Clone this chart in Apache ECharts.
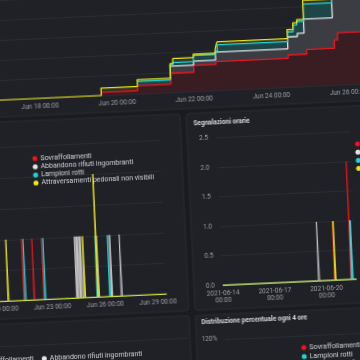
<!DOCTYPE html>
<html><head><meta charset="utf-8">
<script src="https://cdn.jsdelivr.net/npm/echarts@6/dist/echarts.min.js"></script>
<style>
html,body{margin:0;padding:0;width:360px;height:360px;overflow:hidden;background:#1a1b1f;}
#c{position:absolute;left:-60px;top:-60px;width:480px;height:560px;transform-origin:240px 240px;transform:rotate(-2.6deg);}
</style></head><body><div id="c"></div>
<script>
// ---------- DATA ----------
const NAMES = ['Sovraffollamenti','Abbandono rifiuti ingombranti','Lampioni rotti','Attraversamenti pedonali non visibili'];

// Top panel: cumulative counts (stepped), times as 'MM-DD HH:mm' (June 2021)
const topTimesYellow = ['06-16 00:00','06-19 14:20','06-20 13:00','06-21 09:50','06-21 11:40','06-22 00:30','06-22 14:20','06-22 15:00','06-22 15:40','06-24 11:30','06-24 15:15','06-24 17:45','06-24 22:00','06-25 16:00','06-27 00:00'];
const topYellow      = [0,1.9,3.6,7.2,8.45,9.3,10.25,11.4,12.15,14.4,16,16.75,21.5,26.5,26.5];
const topTimesCyan   = ['06-20 13:00','06-21 09:50','06-21 11:40','06-22 00:30','06-22 14:20','06-22 15:40','06-24 11:30','06-24 15:15','06-24 17:45','06-24 22:00','06-25 16:00','06-27 00:00'];
const topCyan        = [3.15,6.8,7.45,8.95,9.8,11.4,13.8,15.45,16.3,20.6,25,25];
const topTimesWhite  = ['06-21 09:50','06-22 00:30','06-22 14:20','06-24 11:30','06-24 17:45','06-24 22:00','06-25 16:00','06-27 00:00'];
const topWhite       = [6.6,7.6,9.6,12.55,13.35,16.85,23.75,23.75];
const topTimesRed    = ['06-19 14:20','06-20 13:00','06-21 09:50','06-22 00:30','06-22 14:20','06-24 11:30','06-24 23:10','06-25 16:30','06-25 18:40','06-27 00:00'];
const topRed         = [0.85,2.1,4.8,6.5,7.2,8.05,9.2,11.25,13,13];

// Middle-left panel: hourly reports (events)
const mlRedTimes    = ['06-21 10:00','06-22 00:00','06-22 13:00','06-26 09:00'];
const mlRedVals     = [1,1,1,1];
const mlWhiteTimes  = ['06-24 10:00','06-24 12:00','06-24 14:00','06-24 16:00','06-24 18:00','06-25 16:00','06-26 10:00','06-26 23:00'];
const mlWhiteVals   = [1,1,1,1,1,1,1,1];
const mlCyanTimes   = ['06-21 12:00','06-22 15:00','06-25 14:00','06-26 07:00'];
const mlCyanVals    = [1,1,1,1];
const mlYellowTimes = ['06-20 12:30','06-24 21:00','06-25 15:00'];
const mlYellowVals  = [1,1,2];

// Middle-right panel "Segnalazioni orarie"
const mrRedTimes    = ['06-20 12:00','06-21 11:00'];
const mrRedVals     = [1,2];
const mrWhiteTimes  = ['06-19 14:00','06-21 12:00'];
const mrWhiteVals   = [1,1];
const mrCyanTimes   = ['06-21 13:00'];
const mrCyanVals    = [1];
const mrYellowTimes = ['06-20 13:00'];
const mrYellowVals  = [1];

// ---------- HELPERS ----------
function hrs(s, baseDay){ const d=+s.slice(3,5), hh=+s.slice(6,8), mm=+s.slice(9,11); return (d-baseDay)*24+hh+mm/60; }
function stepData(times, vals, base){ return times.map((t,i)=>[hrs(t,base), vals[i]]); }
function spikeData(times, vals, base, max){
  const pts=[[0,0]];
  times.forEach((t,i)=>{ const h=hrs(t,base); pts.push([h-0.8,0],[h,vals[i]],[h+0.8,0]); });
  pts.push([max,0]); pts.sort((a,b)=>a[0]-b[0]); return pts;
}
const C = {red:'#f0141f', white:'#e4e4e6', cyan:'#1fd3d6', yellow:'#e6e61c'};
const SPK = {red:'#e0141f', white:'#c9c4c6', cyan:'#1fd3d6', yellow:'#e2e21c'};
const AREA = {red:'#3a1d23', white:'#3b3d42', cyan:'#1e4649', yellow:'#33341f'};
const AX = '#9d9fa4', GRIDC = '#2a2c31', FONT = 'Roboto';
const pad2 = n => (n<10?'0':'')+n;

const chart = echarts.init(document.getElementById('c'));

function lineS(name, data, color, xi, extra){
  return Object.assign({type:'line', name, data, xAxisIndex:xi, yAxisIndex:xi, symbol:'none', showSymbol:false,
    lineStyle:{color, width:1}, itemStyle:{color}, silent:true, animation:false}, extra||{});
}
const series = [];
[['yellow',topTimesYellow,topYellow],['cyan',topTimesCyan,topCyan],['white',topTimesWhite,topWhite],['red',topTimesRed,topRed]].forEach(([k,t,v])=>{
  series.push(lineS('area-'+k, stepData(t,v,16), AREA[k], 0, {step:'end', lineStyle:{width:0}, areaStyle:{color:AREA[k], opacity:1}}));
});
[['red',topTimesRed,topRed,0],['white',topTimesWhite,topWhite,1],['cyan',topTimesCyan,topCyan,2],['yellow',topTimesYellow,topYellow,3]].forEach(([k,t,v,n])=>{
  series.push(lineS(NAMES[n], stepData(t,v,16), C[k], 0, {step:'end', itemStyle:{color:C[k]}, lineStyle:{color:C[k], width:1.3}}));
});
[['red',mlRedTimes,mlRedVals,0],['white',mlWhiteTimes,mlWhiteVals,1],['cyan',mlCyanTimes,mlCyanVals,2],['yellow',mlYellowTimes,mlYellowVals,3]].forEach(([k,t,v,n])=>{
  series.push(lineS(NAMES[n], spikeData(t,v,17,300), SPK[k], 1, {itemStyle:{color:C[k]}}));
});
[['red',mrRedTimes,mrRedVals,0],['white',mrWhiteTimes,mrWhiteVals,1],['cyan',mrCyanTimes,mrCyanVals,2],['yellow',mrYellowTimes,mrYellowVals,3]].forEach(([k,t,v,n])=>{
  series.push(lineS(NAMES[n], spikeData(t,v,14,186), SPK[k], 2, {itemStyle:{color:C[k]}}));
});

const lblBase = {color:AX, fontSize:6.5, fontFamily:FONT};
const hidden = {show:false};
const legendBase = {orient:'vertical', icon:'circle', itemWidth:5, itemHeight:5, itemGap:1.2, padding:0, selectedMode:false,
  textStyle:{color:'#d2d3d6', fontSize:7, fontFamily:FONT, padding:[0,0,0,-2]}};

const panels = [
  [-10,-10,500,179],
  [-10,174,253,197],
  [249,174,260,197],
  [-10,376,253,200],
  [249,376,260,200]
];
const G = {outerBoundsMode:'none', containLabel:false};

chart.setOption({
  backgroundColor:'#1a1b1f',
  animation:false,
  graphic: panels.map(p=>({type:'rect', z:-10, silent:true, shape:{x:p[0],y:p[1],width:p[2],height:p[3],r:3},
     style:{fill:'#1f2126', stroke:'#2b2d33', lineWidth:1}})),
  title:[
    {text:'Segnalazioni orarie', left:256, top:180.5, padding:0, textStyle:{color:'#d8d9dc', fontSize:6.5, fontWeight:'bold', fontFamily:FONT}},
    {text:'Distribuzione percentuale ogni 4 ore', left:255, top:380, padding:0, textStyle:{color:'#d8d9dc', fontSize:6.5, fontWeight:'bold', fontFamily:FONT}}
  ],
  legend:[
    Object.assign({}, legendBase, {data:NAMES, left:93.5, top:208.5}),
    Object.assign({}, legendBase, {data:NAMES, left:416.5, top:208.5}),
    Object.assign({}, legendBase, {orient:'horizontal', itemGap:8, width:175, data:NAMES, left:26.5, top:408.7}),
    Object.assign({}, legendBase, {itemGap:2, data:[NAMES[0],NAMES[2],NAMES[1],NAMES[3]], left:353.6, top:409.4})
  ],
  grid:[
    Object.assign({left:26.4, right:29, top:32.2, bottom:407.8}, G),
    Object.assign({left:1.2, right:258.6, top:199.4, bottom:206.6}, G),
    Object.assign({left:278, right:68.2, top:199.4, bottom:212.8}, G),
    Object.assign({left:1, right:240, top:398, height:150}, G),
    Object.assign({left:278, right:0, top:400.8, height:150}, G)
  ],
  xAxis:[
    {type:'value', gridIndex:0, min:0, max:264, interval:48, axisLine:hidden, axisTick:hidden, splitLine:hidden,
      axisLabel:Object.assign({margin:4.5, formatter:v=>'Jun '+(16+v/24)+' 00:00'}, lblBase)},
    {type:'value', gridIndex:1, min:0, max:300, interval:72, axisLine:hidden, axisTick:hidden, splitLine:hidden,
      axisLabel:Object.assign({margin:4.5, formatter:v=>'Jun '+(17+v/24)+' 00:00'}, lblBase)},
    {type:'value', gridIndex:2, min:0, max:186, interval:72, axisLine:hidden, axisTick:hidden, splitLine:hidden,
      axisLabel:Object.assign({margin:5, lineHeight:7, formatter:v=>'2021-06-'+pad2(14+v/24)+'\n00:00'}, lblBase)},
    {type:'value', gridIndex:3, min:0, max:1, show:false},
    {type:'value', gridIndex:4, min:0, max:1, show:false}
  ],
  yAxis:[
    {type:'value', gridIndex:0, min:0, max:30, interval:5, axisLabel:hidden, axisLine:hidden, axisTick:hidden, splitLine:{lineStyle:{color:GRIDC, width:1}}},
    {type:'value', gridIndex:1, min:0, max:2.5, interval:0.5, axisLabel:Object.assign({formatter:v=>v.toFixed(1)}, lblBase), axisLine:hidden, axisTick:hidden, splitLine:{lineStyle:{color:GRIDC, width:1}}},
    {type:'value', gridIndex:2, min:0, max:2.5, interval:0.5, axisLabel:Object.assign({margin:8, formatter:v=>v.toFixed(1)}, lblBase), axisLine:hidden, axisTick:hidden, splitLine:{lineStyle:{color:GRIDC, width:1}}},
    {type:'value', gridIndex:3, min:0, max:3, interval:1, axisLabel:hidden, axisLine:hidden, axisTick:hidden, splitLine:{lineStyle:{color:GRIDC, width:1}}},
    {type:'value', gridIndex:4, min:0, max:120, interval:40, axisLabel:Object.assign({margin:8, formatter:'{value}%'}, lblBase), axisLine:hidden, axisTick:hidden, splitLine:{lineStyle:{color:GRIDC, width:1}}}
  ],
  series
});
</script></body></html>
